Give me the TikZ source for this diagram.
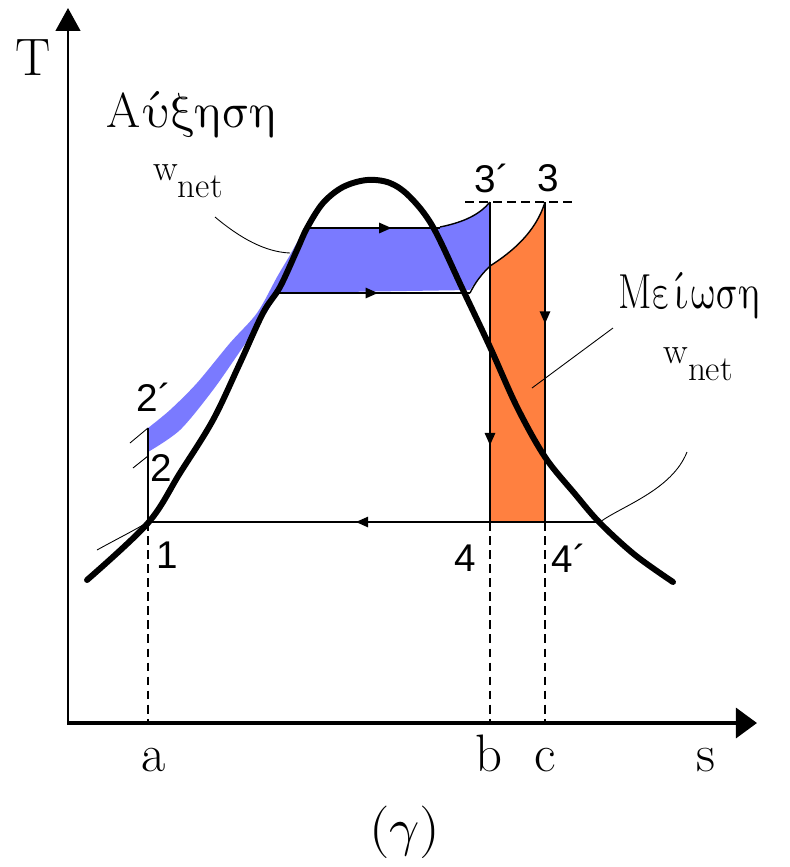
\documentclass[tikz,border=0pt]{standalone}
\usepackage{fontspec,unicode-math,graphicx}
\setmathfont{Latin Modern Math}
\newfontfamily\digitfont{Liberation Sans}
\usetikzlibrary{arrows.meta,decorations.markings}
\definecolor{gainblue}{RGB}{122,122,255}
\definecolor{lossorange}{RGB}{255,128,64}
\newcommand{\wnet}{{\fontsize{21}{23}\selectfont w\raisebox{-10pt}{\fontsize{20}{22}\selectfont net}}}
\newcommand{\gainword}{$\mathrm{A}\mkern1mu\acute{\symup{\upsilon}}\symup{\xi\eta\sigma\eta}$}
\newcommand{\lossword}{\scalebox{0.8}[1]{$\mathrm{M}\symup{\varepsilon}\mkern1mu\acute{\symup{\iota}}\mkern1mu\symup{\omega\sigma\eta}$}}

\begin{document}
\begin{tikzpicture}[x=0.02cm,y=-0.02cm,
  every node/.style={inner sep=0pt},
  axislabel/.style={font=\fontsize{30}{32}\selectfont},
  word/.style={font=\fontsize{28}{30}\selectfont},
  statept/.style={font=\digitfont\fontsize{22}{24}\selectfont},
  cycleline/.style={line width=0.8pt},
  dome/.style={line width=3.4pt,line cap=round,line join=round},
  guide/.style={line width=0.5pt},
  drop/.style={line width=0.8pt,dash pattern=on 5pt off 3pt},
  flowmark/.style={postaction={decorate,decoration={markings,
      mark=at position #1 with {\arrow{Triangle[length=7pt,width=6pt]}}}}}]
 \useasboundingbox (0,0) rectangle (790,867);

 % state points
 \coordinate (p1) at (148,522);
 \coordinate (p2) at (148,452);
 \coordinate (p2b) at (148,428);
 \coordinate (p3) at (545,202);
 \coordinate (p3b) at (490,202);
 \coordinate (p4) at (490,522);
 \coordinate (p4b) at (545,522);
 \coordinate (sa) at (148,722);
 \coordinate (sb) at (490,722);
 \coordinate (sc) at (545,722);

 % areas
 \fill[gainblue] plot[smooth] coordinates {(148,428) (170,410) (197,383)
    (230,343) (257,313) (277,277) (290,255) (305,228)}
   -- (440,227) .. controls (465,222) and (480,214) .. (p3b)
   -- (490,265) .. controls (482,274) and (476,281) .. (470,290)
   -- (278,293)
   -- plot[smooth] coordinates {(278,293) (265,315) (243,347) (213,390)
    (180,430) (148,452)} -- cycle;
 \fill[lossorange] (p4) -- (490,266) .. controls (512,252) and (536,232)
   .. (p3) -- (p4b) -- cycle;

 % saturation dome
 \draw[dome] plot[smooth,tension=0.55] coordinates {(87,580) (148,523)
    (180,473) (213,420) (240,363) (263,313) (280,287) (297,250) (307,228)
    (323,203) (343,187) (367,180) (390,183) (410,197) (433,227) (463,290)
    (490,347) (517,407) (545,457) (575,494) (600,523) (635,555) (673,582)};

 % cycles
 \draw[cycleline] (p1) -- (p2b);
 \draw[cycleline,flowmark=0.64] (305,228) -- (440,228);
 \draw[cycleline] (440,227) .. controls (465,222) and (480,214) .. (p3b);
 \draw[cycleline,flowmark=0.52] (278,293) -- (470,293);
 \draw[cycleline] (470,293) .. controls (476,281) and (482,274) .. (490,266)
   .. controls (512,252) and (536,232) .. (p3);
 \draw[cycleline,flowmark=0.76] (p3b) -- (p4);
 \draw[cycleline,flowmark=0.38] (p3) -- (p4b);
 \draw[cycleline,flowmark=0.54] (600,522) -- (p1);
 \draw[line width=1.6pt] (p4) -- (p4b);

 % continuation of the pressure lines
 \draw[guide] (130,443) -- (p2b);
 \draw[guide] (133,468) -- (148,456);
 \draw[guide] (97,550) .. controls (115,540) and (135,530) .. (p1);
 \draw[guide] (600,522) .. controls (622,506) and (672,490) .. (687,452);

 % projections
 \draw[drop] (p1) -- (sa);
 \draw[drop] (p4) -- (sb);
 \draw[drop] (p4b) -- (sc);
 \draw[drop] (465,202) -- (573,202);

 % axes
 \draw[line width=1.2pt,-{Triangle[length=13pt,width=14pt]}] (68,723) -- (68,8);
 \draw[line width=2.2pt,-{Triangle[length=12pt,width=17pt]}] (67,723) -- (757,723);

 % labels
 \node[axislabel,anchor=base west] (Tlab) at (15,75) {T};
 \node[axislabel,anchor=base] (alab) at (154,771) {a};
 \node[axislabel,anchor=base] (blab) at (489,771) {b};
 \node[axislabel,anchor=base] (clab) at (545,771) {c};
 \node[axislabel,anchor=base] (slab) at (706,771) {s};
 \node[axislabel] (caption) at (405,832) {$(\gamma)$};

 \node[statept] (n1) at (167,555) {1};
 \node[statept] (n2) at (161,468) {2};
 \node[statept] (n2b) at (154,397) {2´};
 \node[statept] (n3b) at (492,178) {3´};
 \node[statept] (n3) at (548,178) {3};
 \node[statept] (n4) at (465,558) {4};
 \node[statept] (n4b) at (569,558) {4´};

 \node[word,anchor=base west] (gainlab) at (106,127) {\gainword};
 \node[anchor=base west] (gainw) at (153,180) {\wnet};
 \node[word,anchor=base west] (losslab) at (618,308) {\lossword};
 \node[anchor=base west] (lossw) at (663,363) {\wnet};

 % leaders
 \draw[guide] (215,217) .. controls (240,238) and (265,252) .. (290,253);
 \draw[guide] (613,328) -- (532,388);
\end{tikzpicture}
\end{document}
